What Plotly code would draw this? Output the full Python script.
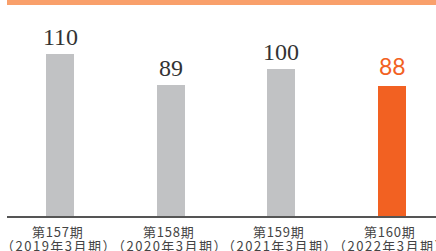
import plotly.graph_objects as go

period_labels = ["第157期", "第158期", "第159期", "第160期"]
fiscal_labels = ["（2019年3月期）", "（2020年3月期）", "（2021年3月期）", "（2022年3月期）"]
values = [110, 89, 100, 88]
labels = ["110", "89", "100", "88"]

bar_colors = ["#C1C2C4", "#C1C2C4", "#C1C2C4", "#F26122"]
text_colors = ["#333333", "#333333", "#333333", "#F26122"]
text_fonts = ["Liberation Serif", "Liberation Serif", "Liberation Serif", "Lato"]
text_sizes = [24, 24, 24, 23]
text_shift = [2, 2, 2, 4]

x_pos = list(range(len(period_labels)))

fig = go.Figure()
fig.add_trace(go.Bar(
    x=x_pos,
    y=values,
    width=0.253,
    marker=dict(color=bar_colors, line=dict(width=0)),
    hoverinfo="skip",
))

for i, (v, lab) in enumerate(zip(values, labels)):
    fig.add_annotation(
        x=i, y=v, text=lab, showarrow=False,
        xanchor="center", yanchor="bottom", yshift=text_shift[i],
        font=dict(color=text_colors[i], family=text_fonts[i], size=text_sizes[i]),
    )

cat_font = dict(family="Noto Sans CJK JP", size=13, color="#444444")
for i, (p, f) in enumerate(zip(period_labels, fiscal_labels)):
    fig.add_annotation(
        x=i, y=0, yref="paper",
        text='<span style="letter-spacing:0.8px">' + p + "</span>",
        showarrow=False,
        xanchor="center", yanchor="middle", yshift=-15, xshift=-2,
        font=cat_font,
    )
    fig.add_annotation(
        x=i, y=0, yref="paper",
        text='<span style="letter-spacing:1.5px">' + f + "</span>",
        showarrow=False,
        xanchor="center", yanchor="middle", yshift=-29, xshift=-1,
        font=cat_font,
    )

fig.update_layout(
    width=436, height=251,
    margin=dict(l=7, r=0, t=0, b=35, autoexpand=False),
    paper_bgcolor="white", plot_bgcolor="white",
    showlegend=False,
    bargap=0,
    xaxis=dict(
        range=[-0.479, 3.397],
        tickmode="array",
        tickvals=x_pos,
        showticklabels=False,
        showgrid=False, zeroline=False,
        showline=True, linecolor="#555555", linewidth=1.5,
        ticks="",
        automargin=False,
        fixedrange=True,
    ),
    yaxis=dict(
        range=[0, 146.5],
        visible=False,
        fixedrange=True,
    ),
    shapes=[dict(
        type="rect", xref="paper", yref="paper",
        x0=0, x1=1.02, y0=1 - 5 / 216, y1=1.0,
        fillcolor="#F9A06B", line=dict(width=0), layer="above",
    )],
)

fig.write_html(
    "out.html",
    config={"displayModeBar": False},
    post_script="document.body.style.margin='0';document.body.style.padding='0';document.body.style.overflow='hidden';",
)
